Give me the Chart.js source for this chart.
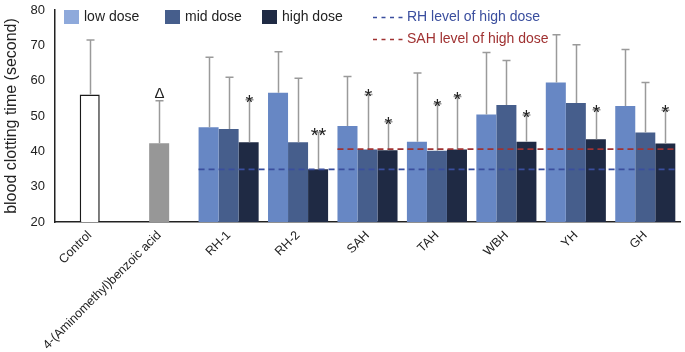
<!DOCTYPE html>
<html>
<head>
<meta charset="utf-8">
<script src="https://cdn.jsdelivr.net/npm/chart.js@4.4.1/dist/chart.umd.min.js"></script>
<style>
  html, body { margin: 0; padding: 0; background: #fff; }
  #wrap { width: 685px; height: 352px; position: relative; }
</style>
</head>
<body>
<div id="wrap"><canvas id="c" width="685" height="352"></canvas></div>
<script>
const categories = ['Control', '4-(Aminomethyl)benzoic acid', 'RH-1', 'RH-2', 'SAH', 'TAH', 'WBH', 'YH', 'GH'];
const seriesNames = ['low dose', 'mid dose', 'high dose'];
// mean values
const lowDose  = [null, null, 46.8, 56.6, 47.2, 42.7, 50.4, 59.5, 52.8];
const midDose  = [56.1, 42.3, 46.3, 42.6, 40.5, 40.2, 53.1, 53.7, 45.3];
const highDose = [null, null, 42.6, 34.9, 40.3, 40.5, 42.7, 43.4, 42.2];
// upper end of error bars
const lowErrTop  = [null, null, 66.6, 68.2, 61.2, 62.2, 68.0, 73.0, 68.8];
const midErrTop  = [71.5, 54.3, 61.0, 60.7, 56.1, 53.5, 65.7, 70.2, 59.5];
const highErrTop = [null, null, 54.6, 45.3, 48.4, 55.5, 50.3, 51.8, 51.6];
// significance marks
const lowMarks  = ['', '', '', '', '', '', '', '', ''];
const midMarks  = ['', 'Δ', '', '', '*', '*', '', '', ''];
const highMarks = ['', '', '*', '**', '*', '*', '*', '*', '*'];
// reference levels
const rhLevel = 34.9;
const sahLevel = 40.6;
const yTicks = [20, 30, 40, 50, 60, 70, 80];

const FONT = "'Liberation Sans', Arial, sans-serif";
const C_LOW = '#6787C4', C_MID = '#465E8C', C_HIGH = '#1F2A44';
const C_LOW_LEG = '#8EA9DB';
const C_RH = '#3A4E9E', C_SAH = '#A03232';

const midColors = midDose.map((v, i) => i === 0 ? '#ffffff' : (i === 1 ? '#979797' : C_MID));
const midBorder = midDose.map((v, i) => i === 0 ? '#1a1a1a' : 'rgba(0,0,0,0)');
const midBorderW = midDose.map((v, i) => i === 0 ? 1.5 : 0);

const errTops = [lowErrTop, midErrTop, highErrTop];
const marks = [lowMarks, midMarks, highMarks];

const overlay = {
  id: 'overlay',
  afterDatasetsDraw(chart) {
    const ctx = chart.ctx;
    const y = chart.scales.y;
    ctx.save();
    // error bars
    ctx.lineWidth = 1.5;
    for (let d = 0; d < 3; d++) {
      const meta = chart.getDatasetMeta(d);
      meta.data.forEach((bar, i) => {
        const top = errTops[d][i];
        const val = chart.data.datasets[d].data[i];
        if (top == null || val == null) return;
        const x = Math.round(bar.x) + 0.5;
        const y0 = y.getPixelForValue(val);
        const y1 = y.getPixelForValue(top);
        ctx.strokeStyle = '#9a9a9a';
        ctx.beginPath();
        ctx.moveTo(x, y0); ctx.lineTo(x, y1);
        ctx.moveTo(x - 4, y1); ctx.lineTo(x + 4, y1);
        ctx.stroke();
        const m = marks[d][i];
        if (m) {
          ctx.fillStyle = '#222';
          ctx.textAlign = 'center';
          ctx.textBaseline = 'alphabetic';
          if (m === 'Δ') {
            ctx.font = '15px ' + FONT;
            ctx.fillText(m, x, y1 - 3);
          } else {
            ctx.font = '20px ' + FONT;
            ctx.fillText(m, x, y1 + 9);
          }
        }
      });
    }
    // reference lines
    const lowMeta = chart.getDatasetMeta(0);
    const highMeta = chart.getDatasetMeta(2);
    const lineFrom = (catIdx, level, color) => {
      const b0 = lowMeta.data[catIdx];
      const bN = highMeta.data[categories.length - 1];
      const x0 = b0.x - b0.width / 2;
      const x1 = bN.x + bN.width / 2;
      const yy = y.getPixelForValue(level);
      ctx.strokeStyle = color;
      ctx.lineWidth = 1.8;
      ctx.setLineDash([6, 4]);
      ctx.beginPath();
      ctx.moveTo(x0, yy); ctx.lineTo(x1, yy);
      ctx.stroke();
      ctx.setLineDash([]);
    };
    lineFrom(categories.indexOf('RH-1'), rhLevel, C_RH);
    lineFrom(categories.indexOf('SAH'), sahLevel, C_SAH);

    // legend
    ctx.textAlign = 'left';
    ctx.textBaseline = 'middle';
    ctx.font = '14px ' + FONT;
    const legItems = [
      { x: 64, color: C_LOW_LEG, text: seriesNames[0] },
      { x: 165, color: C_MID, text: seriesNames[1] },
      { x: 262, color: C_HIGH, text: seriesNames[2] }
    ];
    legItems.forEach(it => {
      ctx.fillStyle = it.color;
      ctx.fillRect(it.x, 10, 15, 14);
      ctx.fillStyle = '#222';
      ctx.fillText(it.text, it.x + 20, 17.5);
    });
    const dashLeg = (yy, color, text) => {
      ctx.strokeStyle = color;
      ctx.lineWidth = 1.5;
      ctx.setLineDash([4, 4.5]);
      ctx.beginPath();
      ctx.moveTo(373, yy); ctx.lineTo(403, yy);
      ctx.stroke();
      ctx.setLineDash([]);
      ctx.fillStyle = color;
      ctx.fillText(text, 407, yy);
    };
    dashLeg(17.5, C_RH, 'RH level of high dose');
    dashLeg(39.5, C_SAH, 'SAH level of high dose');
    ctx.restore();
  }
};

new Chart(document.getElementById('c'), {
  type: 'bar',
  data: {
    labels: categories,
    datasets: [
      { label: seriesNames[0], data: lowDose, backgroundColor: C_LOW, borderWidth: 0 },
      { label: seriesNames[1], data: midDose, backgroundColor: midColors, borderColor: midBorder, borderWidth: midBorderW, borderSkipped: false },
      { label: seriesNames[2], data: highDose, backgroundColor: C_HIGH, borderWidth: 0 }
    ]
  },
  options: {
    responsive: false,
    animation: false,
    devicePixelRatio: 1,
    layout: { padding: { left: 0, right: 5, top: 10, bottom: 0 } },
    datasets: { bar: { categoryPercentage: 0.865, barPercentage: 1.0, grouped: true } },
    plugins: { legend: { display: false }, tooltip: { enabled: false } },
    scales: {
      x: {
        grid: { display: false, drawTicks: false },
        border: { display: true, color: '#222', width: 1.5 },
        ticks: {
          autoSkip: false, minRotation: 45, maxRotation: 45, padding: 6,
          color: '#222', font: { family: FONT, size: 12.5 }
        },
        afterFit(s) { s.height = 130; }
      },
      y: {
        min: 20, max: 80,
        afterBuildTicks(s) { s.ticks = yTicks.map(v => ({ value: v })); },
        grid: { display: false, drawTicks: false },
        border: { display: true, color: '#222', width: 1.5 },
        ticks: { padding: 10, color: '#222', font: { family: FONT, size: 13 } },
        title: { display: true, text: 'blood clotting time (second)', color: '#222', font: { family: FONT, size: 16 }, padding: { top: 2, bottom: 2 } },
        afterFit(s) { s.width = 55; s.paddingTop = 0; s.paddingBottom = 0; }
      }
    }
  },
  plugins: [overlay]
});
</script>
</body>
</html>
